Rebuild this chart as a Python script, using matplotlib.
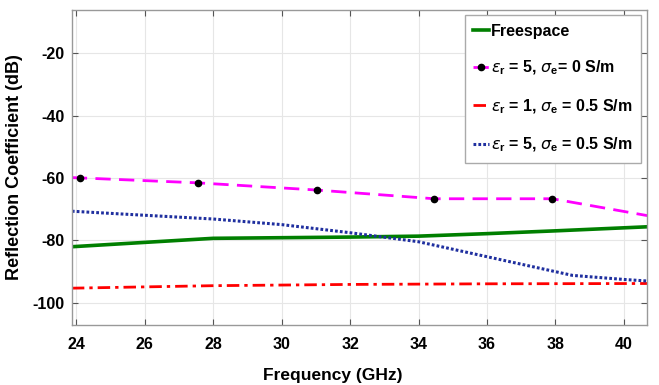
import matplotlib
matplotlib.use("Agg")
import matplotlib.pyplot as plt
import numpy as np

plt.rcParams['font.family'] = ['Liberation Sans', 'DejaVu Sans']
plt.rcParams['axes.unicode_minus'] = False
plt.rcParams['mathtext.fontset'] = 'custom'
plt.rcParams['mathtext.it'] = 'DejaVu Sans:italic'
plt.rcParams['mathtext.rm'] = 'Liberation Sans:bold'
plt.rcParams['mathtext.bf'] = 'Liberation Sans:bold'

# Freespace
f_free = [23.87, 28.0, 30.0, 32.0, 34.0, 36.0, 38.0, 40.68]
r_free = [-82.1, -79.4, -79.2, -79.0, -78.7, -77.9, -77.0, -75.7]

# eps_r = 5, sigma = 0
f_e5s0 = [23.87, 24.1, 27.56, 31.02, 34.46, 37.91, 40.68]
r_e5s0 = [-59.9, -60.0, -61.6, -63.9, -66.7, -66.7, -72.1]
marker_idx = [1, 2, 3, 4, 5]

# eps_r = 1, sigma = 0.5
f_e1s5 = [23.87, 28.0, 32.0, 36.0, 40.68]
r_e1s5 = [-95.4, -94.6, -94.2, -94.0, -93.9]

# eps_r = 5, sigma = 0.5
f_e5s5 = [23.87, 26.0, 28.0, 30.0, 32.0, 34.0, 36.0, 38.0, 38.5, 40.0, 40.68]
r_e5s5 = [-70.7, -72.0, -73.2, -75.0, -77.6, -80.5, -85.3, -90.1, -91.3, -92.6, -93.1]

xticks = [24, 26, 28, 30, 32, 34, 36, 38, 40]
yticks = [-100, -80, -60, -40, -20]

fig = plt.figure(figsize=(6.59, 3.85), dpi=100)
ax = fig.add_axes([0.109, 0.156, 0.873, 0.819])

ax.plot(f_free, r_free, color='#007f00', lw=2.6, label='Freespace')
ax.plot(f_e5s0, r_e5s0, color='#ff00ff', lw=2.0, ls=(0, (5.5, 3)),
        marker='o', markersize=4.5, markerfacecolor='black', markeredgecolor='black',
        markevery=marker_idx, label=r'$\epsilon_\mathrm{r}$ = 5, $\sigma_\mathrm{e}$= 0 S/m')
ax.plot(f_e1s5, r_e1s5, color='#ff0000', lw=2.0, ls=(0, (4.5, 1.8, 1.2, 1.8)),
        label=r'$\epsilon_\mathrm{r}$ = 1, $\sigma_\mathrm{e}$ = 0.5 S/m')
ax.plot(f_e5s5, r_e5s5, color='#1f2f9f', lw=2.2, ls=(0, (0.9, 0.7)),
        label=r'$\epsilon_\mathrm{r}$ = 5, $\sigma_\mathrm{e}$ = 0.5 S/m')

ax.set_xlim(23.87, 40.68)
ax.set_ylim(-107.2, -6)
ax.set_xticks(xticks)
ax.set_yticks(yticks)
ax.tick_params(direction='in', top=True, right=True, labelsize=11.5, length=4,
               color='#555555')
ax.tick_params(axis='x', pad=9)
ax.tick_params(axis='y', pad=5)
for lbl in ax.get_xticklabels() + ax.get_yticklabels():
    lbl.set_fontweight('bold')
ax.grid(True, color='#e6e6e6', lw=0.8)
ax.set_axisbelow(True)
for s in ax.spines.values():
    s.set_color('#999999')
    s.set_linewidth(1.0)

ax.set_xlabel('Frequency (GHz)', fontsize=12.5, fontweight='bold')
ax.set_ylabel('Reflection Coefficient (dB)', fontsize=13, fontweight='bold')
ax.xaxis.set_label_coords(0.454, -0.137)
ax.yaxis.set_label_coords(-0.085, 0.5)

leg = ax.legend(loc='upper right', bbox_to_anchor=(0.99, 0.983), borderaxespad=0,
                handlelength=1.0, handletextpad=0.1, labelspacing=1.25,
                borderpad=0.55, fancybox=False, framealpha=1, edgecolor='#aaaaaa',
                prop={'weight': 'bold', 'size': 11.5})
leg.get_frame().set_linewidth(1.0)

fig.savefig('out.png', dpi=100)
